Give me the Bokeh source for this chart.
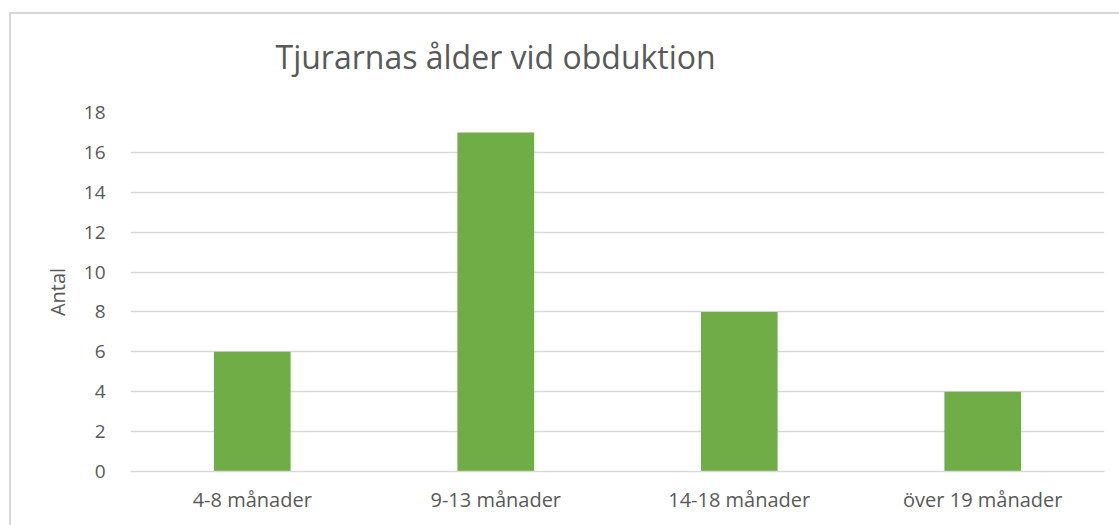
from bokeh.plotting import figure
from bokeh.models import FactorRange, Range1d, SingleIntervalTicker, Title
from bokeh.embed import file_html
from bokeh.resources import INLINE

categories = ["4-8 månader", "9-13 månader", "14-18 månader", "över 19 månader"]
values = [6, 17, 8, 4]
title_text = "Tjurarnas ålder vid obduktion"
y_label = "Antal"

FONT = "Open Sans"
GREY = "#595959"
GRID = "#d9d9d9"

p = figure(width=1119, height=525, output_backend="svg", toolbar_location=None,
           x_range=FactorRange(*categories, range_padding=0), y_range=Range1d(0, 18),
           min_border_left=130, min_border_right=15, min_border_top=112, min_border_bottom=54)
p.margin = (0, 0, 0, 0)
p.border_fill_color = None
p.background_fill_color = None
p.styles = {
    "background-color": "white",
    "background-image": f"linear-gradient({GRID}, {GRID}), linear-gradient({GRID}, {GRID})",
    "background-size": "100% 2px, 2px 100%",
    "background-position": "9px 12px, 9px 12px",
    "background-repeat": "no-repeat",
}

p.vbar(x=categories, top=values, width=0.315, color="#70AD47", line_color=None)

p.outline_line_color = None
p.xgrid.grid_line_color = None
p.ygrid.grid_line_color = GRID
p.ygrid.grid_line_width = 1.3

p.yaxis.ticker = SingleIntervalTicker(interval=2)
p.yaxis.axis_line_color = None
p.yaxis.major_tick_line_color = None
p.yaxis.minor_tick_line_color = None
p.yaxis.major_label_text_font = FONT
p.yaxis.major_label_text_font_size = "19px"
p.yaxis.major_label_text_color = GREY
p.yaxis.major_label_standoff = 19
p.yaxis.axis_label = y_label
p.yaxis.axis_label_text_font = FONT
p.yaxis.axis_label_text_font_size = "20px"
p.yaxis.axis_label_text_font_style = "normal"
p.yaxis.axis_label_text_color = GREY
p.yaxis.axis_label_standoff = 10

p.xaxis.axis_line_color = GRID
p.xaxis.axis_line_width = 1.3
p.xaxis.major_tick_line_color = None
p.xaxis.minor_tick_line_color = None
p.xaxis.major_label_text_font = FONT
p.xaxis.major_label_text_font_size = "20px"
p.xaxis.major_label_text_color = GREY
p.xaxis.major_label_standoff = 8

t = Title(text=title_text, align="left", offset=145, text_font=FONT,
          text_font_size="32px", text_font_style="normal", text_color=GREY,
          standoff=66, vertical_align="top")
p.add_layout(t, "above")
p.title.visible = False

open("out.html", "w").write(file_html(p, INLINE))
